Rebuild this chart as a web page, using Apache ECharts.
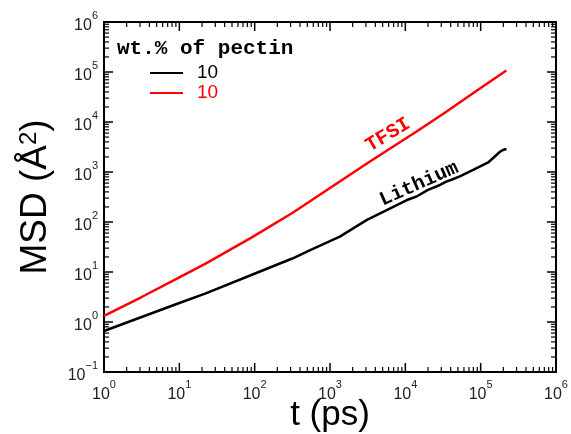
<!DOCTYPE html>
<html><head><meta charset="utf-8">
<script src="https://cdn.jsdelivr.net/npm/echarts@6/dist/echarts.min.js"></script>
<style>html,body{margin:0;padding:0;background:#fff}#c{width:571px;height:434px}</style>
</head><body><div id="c"></div>
<script>
// ---------- data ----------
const legendTitle = 'wt.% of pectin';
const seriesNames = ['10', '10 '];
const seriesColors = ['#000000', '#ff0000'];
const xTitle = 't (ps)';
const yTitle = 'MSD (Å{s|2})';
const xExponents = [0, 1, 2, 3, 4, 5, 6];
const yExponents = [-1, 0, 1, 2, 3, 4, 5, 6];

const tBlack = [1, 3.16, 10, 22, 87, 316, 537, 1350, 3090, 3720, 10500, 14100, 20000, 28800, 35000, 41000, 53700, 79400, 126000, 182000, 209000, 219000];
const msdBlack = [0.66, 1.26, 2.4, 3.7, 8.5, 18.6, 27, 51, 110, 126, 275, 324, 440, 550, 640, 700, 830, 1100, 1550, 2570, 2880, 2750];
const tRed = [1, 3.16, 10, 22, 87, 316, 1000, 3160, 14100, 31600, 100000, 219000];
const msdRed = [1.33, 3.16, 7.8, 14.5, 47, 151, 479, 1510, 6460, 14500, 47900, 107000];

const annotTexts = ['Lithium', 'TFSI'];
const annotT = [15200, 5900];
const annotMsd = [575, 5500];
const annotRotate = [24, 31];

// ---------- helpers ----------
const pairs = (xs, ys) => xs.map((x, i) => [x, ys[i]]);
const majors = exps => exps.map(e => Math.pow(10, e));
const minors = exps => {
  const out = [];
  for (let i = 0; i < exps.length - 1; i++)
    for (let k = 2; k <= 9; k++) out.push(k * Math.pow(10, exps[i]));
  return out;
};
const fmt = v => {
  const e = Math.round(Math.log10(v));
  return '{b|10}{s|' + (e < 0 ? '\u2212' + (-e) : e) + '}';
};
const labelRich = {
  b: { fontSize: 16, fontFamily: 'Liberation Sans', color: '#222', verticalAlign: 'bottom', lineHeight: 24 },
  s: { fontSize: 11, fontFamily: 'Liberation Sans', color: '#222', verticalAlign: 'top', lineHeight: 11 }
};
const lineStyleAx = { show: true, lineStyle: { color: '#000', width: 2 }, onZero: false };

const xMin = Math.pow(10, xExponents[0]), xMax = Math.pow(10, xExponents[xExponents.length - 1]);
const yMin = Math.pow(10, yExponents[0]), yMax = Math.pow(10, yExponents[yExponents.length - 1]);

function mainAxis(kind, exps) {
  const lo = exps[0], hi = exps[exps.length - 1];
  return {
    type: 'log', logBase: 10, min: Math.pow(10, lo), max: Math.pow(10, hi),
    position: kind === 'x' ? 'bottom' : 'left',
    axisLine: lineStyleAx, axisTick: { show: false }, splitLine: { show: false }, minorTick: { show: false },
    axisLabel: { show: true, customValues: majors(exps), formatter: fmt, rich: labelRich, margin: kind === 'x' ? 7 : 6 },
    name: kind === 'x' ? xTitle : yTitle, nameLocation: 'middle', nameMoveOverlap: false,
    nameGap: kind === 'x' ? 26 : 50,
    nameTextStyle: {
      fontSize: kind === 'x' ? 35 : 37, fontFamily: 'Liberation Sans', color: '#000',
      rich: { s: { fontSize: 24, fontFamily: 'Liberation Sans', color: '#000', verticalAlign: 'top', lineHeight: 24 } }
    }
  };
}

const chart = echarts.init(document.getElementById('c'), null, { renderer: 'canvas' });
chart.setOption({
  animation: false,
  backgroundColor: '#fff',
  grid: { left: 104, right: 15, top: 22, bottom: 62, containLabel: false, outerBoundsMode: 'none',
          show: true, borderColor: '#000', borderWidth: 2, backgroundColor: 'transparent' },
  title: {
    text: legendTitle, left: 112, top: 33,
    textStyle: { fontFamily: 'Liberation Mono', fontWeight: 'bold', fontSize: 21, color: '#000' }
  },
  legend: {
    orient: 'vertical', left: 150, top: 63, itemGap: 0, itemWidth: 33, itemHeight: 2, icon: 'rect',
    padding: 0,
    textStyle: { fontSize: 19, fontFamily: 'Liberation Sans', lineHeight: 20, padding: [0, 0, 0, 9] },
    data: [
      { name: seriesNames[0], textStyle: { color: seriesColors[0] } },
      { name: seriesNames[1], textStyle: { color: seriesColors[1] } }
    ]
  },
  xAxis: mainAxis('x', xExponents),
  yAxis: mainAxis('y', yExponents),
  series: [
    { name: seriesNames[0], data: pairs(tBlack, msdBlack) },
    { name: seriesNames[1], data: pairs(tRed, msdRed) }
  ].map((s, i) => ({
    type: 'line', name: s.name, data: s.data, xAxisIndex: 0, yAxisIndex: 0,
    showSymbol: false, symbol: 'none',
    lineStyle: { color: seriesColors[i], width: 2.5 },
    itemStyle: { color: seriesColors[i] },
    markPoint: {
      symbol: 'circle', symbolSize: 1, itemStyle: { color: 'rgba(0,0,0,0)' },
      label: {
        show: true, position: 'inside', formatter: annotTexts[i], rotate: annotRotate[i],
        fontFamily: 'Liberation Mono', fontWeight: 'bold', fontSize: 20, color: seriesColors[i]
      },
      data: [{ coord: [annotT[i], annotMsd[i]] }]
    }
  }))
});

// ---------- inward tick marks on all four sides, positioned through the log axes ----------
const toPx = (x, y) => chart.convertToPixel({ xAxisIndex: 0, yAxisIndex: 0 }, [x, y]);
const tickEls = [];
function addTicks(dim, vals, len, width) {
  vals.forEach(v => {
    const st = { stroke: '#000', lineWidth: width };
    if (dim === 'x') {
      const b = toPx(v, yMin), t = toPx(v, yMax);
      tickEls.push({ type: 'line', silent: true, z: 100, shape: { x1: b[0], y1: b[1], x2: b[0], y2: b[1] - len }, style: st });
      tickEls.push({ type: 'line', silent: true, z: 100, shape: { x1: t[0], y1: t[1], x2: t[0], y2: t[1] + len }, style: st });
    } else {
      const l = toPx(xMin, v), r = toPx(xMax, v);
      tickEls.push({ type: 'line', silent: true, z: 100, shape: { x1: l[0], y1: l[1], x2: l[0] + len, y2: l[1] }, style: st });
      tickEls.push({ type: 'line', silent: true, z: 100, shape: { x1: r[0], y1: r[1], x2: r[0] - len, y2: r[1] }, style: st });
    }
  });
}
addTicks('x', majors(xExponents), 9, 1.5);
addTicks('x', minors(xExponents), 5, 1.2);
addTicks('y', majors(yExponents), 9, 1.5);
addTicks('y', minors(yExponents), 5, 1.2);
chart.setOption({ graphic: { elements: tickEls } });
</script></body></html>
